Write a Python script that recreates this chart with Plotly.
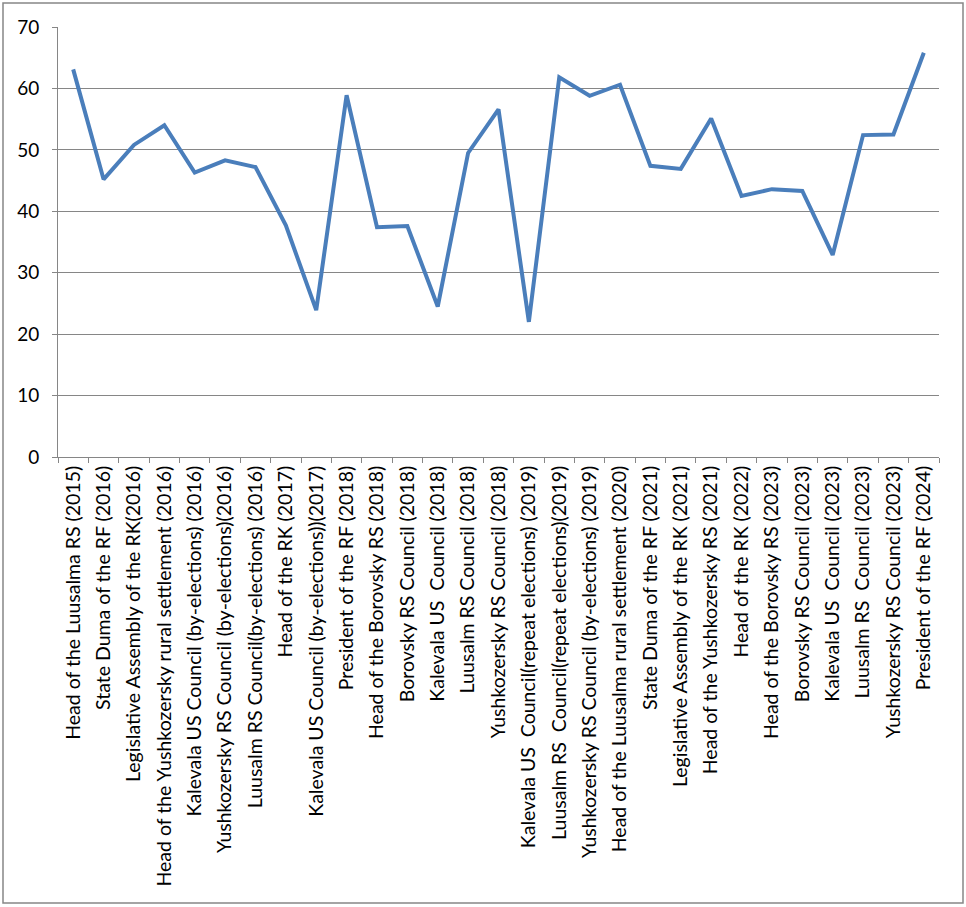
import plotly.graph_objects as go

categories = [
    "Head of the Luusalma RS (2015)",
    "State Duma of the RF (2016)",
    "Legislative Assembly of the RK(2016)",
    "Head of the Yushkozersky rural settlement (2016)",
    "Kalevala US Council (by-elections) (2016)",
    "Yushkozersky RS Council (by-elections)(2016)",
    "Luusalm RS Council(by-elections) (2016)",
    "Head of the RK (2017)",
    "Kalevala US Council (by-elections))(2017)",
    "President of the RF (2018)",
    "Head of the Borovsky RS (2018)",
    "Borovsky RS Council (2018)",
    "Kalevala US  Council (2018)",
    "Luusalm RS Council (2018)",
    "Yushkozersky RS Council (2018)",
    "Kalevala US  Council(repeat elections) (2019)",
    "Luusalm RS  Council(repeat elections)(2019)",
    "Yushkozersky RS Council (by-elections) (2019)",
    "Head of the Luusalma rural settlement (2020)",
    "State Duma of the RF (2021)",
    "Legislative Assembly of the RK (2021)",
    "Head of the Yushkozersky RS (2021)",
    "Head of the RK (2022)",
    "Head of the Borovsky RS (2023)",
    "Borovsky RS Council (2023)",
    "Kalevala US  Council (2023)",
    "Luusalm RS  Council (2023)",
    "Yushkozersky RS Council (2023)",
    "President of the RF (2024)",
]

values = [63.1, 45.2, 50.8, 54.0, 46.3, 48.3, 47.2, 37.7, 23.9, 58.9,
          37.4, 37.6, 24.5, 49.5, 56.6, 22.0, 61.8, 58.8, 60.6, 47.4,
          46.9, 55.1, 42.5, 43.6, 43.3, 32.9, 52.4, 52.5, 65.8]

y_ticks = [0, 10, 20, 30, 40, 50, 60, 70]

fig = go.Figure()
fig.add_trace(go.Scatter(
    x=categories, y=values, mode="lines",
    line=dict(color="#4A7EBB", width=4),
    showlegend=False,
))

W, H = 966, 907
L, R, T, B = 58, 27, 27, 450
pw, ph = W - L - R, H - T - B

fig.update_layout(
    width=W, height=H,
    margin=dict(l=L, r=R, t=T, b=B, pad=0),
    paper_bgcolor="white", plot_bgcolor="white",
    font=dict(family="Lato", size=19, color="black"),
    xaxis=dict(
        type="category", tickangle=-90, tickson="boundaries",
        ticks="outside", ticklen=5, tickcolor="#868686",
        showline=True, linecolor="#868686", linewidth=1,
        showgrid=False, automargin=False,
        tickfont=dict(family="Lato", size=19.5),
        range=[-0.5, len(categories) - 0.5],
    ),
    yaxis=dict(
        range=[0, 70], tickvals=y_ticks, ticks="outside", ticklen=5,
        tickcolor="#868686", showline=True, linecolor="#868686",
        linewidth=1, showgrid=True, gridcolor="#868686", gridwidth=1,
        zeroline=False, automargin=False, ticklabelstandoff=9,
        tickfont=dict(family="Lato", size=19),
    ),
    shapes=[dict(
        type="rect", xref="paper", yref="paper",
        x0=(3 - L) / pw, x1=(963 - L) / pw,
        y0=(H - B - 903) / ph, y1=(H - B - 3) / ph,
        line=dict(color="#868686", width=1.5),
        layer="below",
    )],
)

fig.write_html(
    "out.html",
    config={"displayModeBar": False},
    post_script="document.body.style.margin='0';document.body.style.overflow='hidden';",
)
